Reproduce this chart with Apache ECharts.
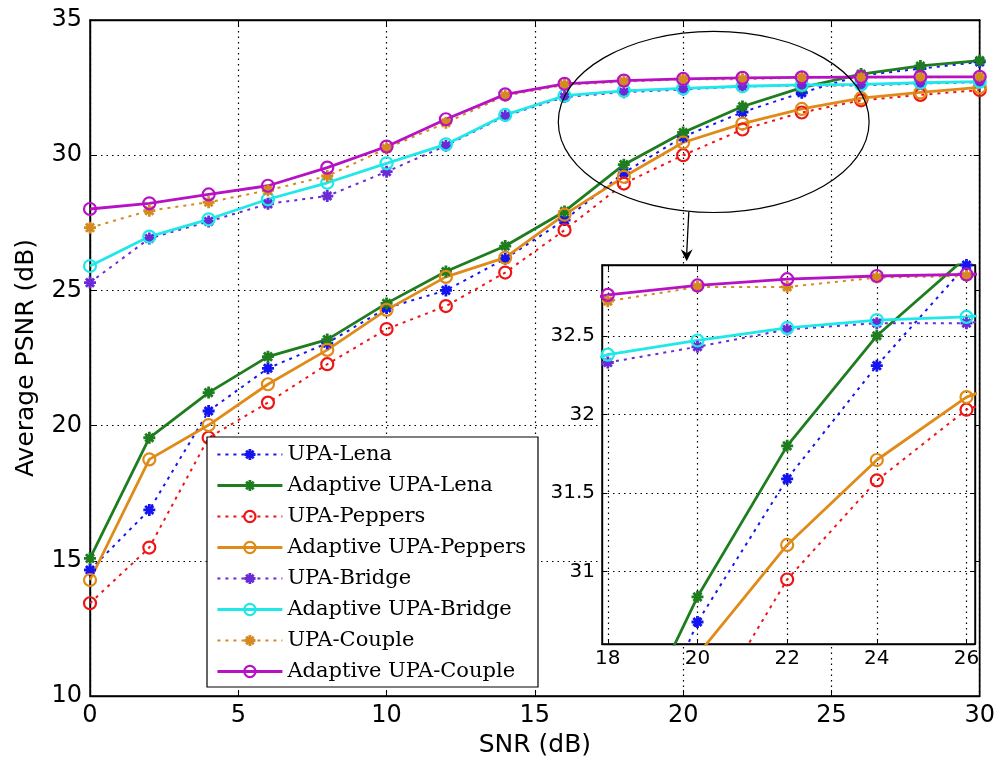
<!DOCTYPE html>
<html>
<head>
<meta charset="utf-8">
<script src="https://cdn.jsdelivr.net/npm/echarts@6/dist/echarts.min.js"></script>
<style>
  html, body { margin: 0; padding: 0; background: #fff; }
  #chart { width: 998px; height: 763px; }
</style>
</head>
<body>
<div id="chart"></div>
<script>
// SNR sweep (dB)
const snr = [0, 2, 4, 6, 8, 10, 12, 14, 16, 18, 20, 22, 24, 26, 28, 30];

// Average PSNR (dB) per test image
const upaLena          = [14.66, 16.88, 20.54, 22.12, 23.05, 24.35, 25.00, 26.17, 27.60, 29.35, 30.68, 31.59, 32.31, 32.95, 33.20, 33.45];
const adaptiveLena     = [15.09, 19.55, 21.22, 22.55, 23.18, 24.52, 25.70, 26.64, 27.92, 29.65, 30.84, 31.80, 32.50, 33.00, 33.30, 33.50];
const upaPeppers       = [13.43, 15.49, 19.55, 20.85, 22.27, 23.57, 24.42, 25.66, 27.23, 28.95, 30.00, 30.95, 31.58, 32.03, 32.23, 32.41];
const adaptivePeppers  = [14.29, 18.75, 20.02, 21.53, 22.80, 24.28, 25.50, 26.21, 27.80, 29.20, 30.47, 31.17, 31.71, 32.11, 32.32, 32.51];
const upaBridge        = [25.29, 26.92, 27.55, 28.20, 28.49, 29.39, 30.35, 31.45, 32.15, 32.33, 32.43, 32.54, 32.58, 32.58, 32.65, 32.70];
const adaptiveBridge   = [25.90, 26.99, 27.63, 28.37, 28.98, 29.70, 30.40, 31.49, 32.20, 32.38, 32.47, 32.55, 32.60, 32.62, 32.68, 32.72];
const upaCouple        = [27.32, 27.95, 28.26, 28.70, 29.23, 30.25, 31.20, 32.20, 32.60, 32.72, 32.81, 32.81, 32.87, 32.88, 32.88, 32.90];
const adaptiveCouple   = [28.01, 28.22, 28.55, 28.87, 29.54, 30.32, 31.33, 32.25, 32.64, 32.76, 32.82, 32.86, 32.88, 32.89, 32.90, 32.90];

const seriesNames = [
  'UPA-Lena', 'Adaptive UPA-Lena',
  'UPA-Peppers', 'Adaptive UPA-Peppers',
  'UPA-Bridge', 'Adaptive UPA-Bridge',
  'UPA-Couple', 'Adaptive UPA-Couple'
];
const seriesValues = [upaLena, adaptiveLena, upaPeppers, adaptivePeppers,
                      upaBridge, adaptiveBridge, upaCouple, adaptiveCouple];

// Axis ticks
const mainXTicks = [0, 5, 10, 15, 20, 25, 30];
const mainYTicks = [10, 15, 20, 25, 30, 35];
const zoomXTicks = [18, 20, 22, 24, 26];
const zoomYTicks = [31, 31.5, 32, 32.5];

// Marker shapes: asterisk (stroked) and open ring
const STAR = 'path://M5,0L5,10M0,5L10,5M1.6,1.6L8.4,8.4M8.4,1.6L1.6,8.4';
const RING = 'path://M0,5A5,5,0,1,1,10,5A5,5,0,1,1,0,5Z';

const styles = [
  { color: '#1414f0', dotted: true,  marker: STAR },
  { color: '#1e7d1e', dotted: false, marker: STAR },
  { color: '#ee1515', dotted: true,  marker: RING },
  { color: '#e08a18', dotted: false, marker: RING },
  { color: '#6a2ad6', dotted: true,  marker: STAR },
  { color: '#1fe8e8', dotted: false, marker: RING },
  { color: '#d48a1e', dotted: true,  marker: STAR },
  { color: '#b612c4', dotted: false, marker: RING }
];

function lineStyleOf(s) {
  return s.dotted
    ? { color: s.color, width: 2, type: [3, 5] }
    : { color: s.color, width: 2.8, type: 'solid' };
}
function itemStyleOf(s) {
  return s.marker === RING
    ? { color: 'transparent', borderColor: s.color, borderWidth: 2.2 }
    : { color: s.color, borderColor: s.color, borderWidth: 2.8 };
}

function buildSeries(xAxisIndex, yAxisIndex, z) {
  return seriesNames.map((name, k) => ({
    name: name,
    type: 'line',
    xAxisIndex: xAxisIndex,
    yAxisIndex: yAxisIndex,
    data: snr.map((x, i) => [x, seriesValues[k][i]]),
    symbol: styles[k].marker,
    symbolSize: 12,
    showAllSymbol: true,
    clip: true,
    z: z,
    lineStyle: lineStyleOf(styles[k]),
    itemStyle: itemStyleOf(styles[k]),
    emphasis: { disabled: true },
    animation: false
  }));
}

const TICK_FONT = 'DejaVu Sans';
const dottedGrid = { show: true, lineStyle: { color: '#000', width: 1.2, type: [1.5, 4] } };
const blackLine = { show: true, onZero: false, lineStyle: { color: '#000', width: 1.4 } };

const option = {
  backgroundColor: '#fff',
  animation: false,
  grid: [
    { left: 90, top: 20, right: 17, bottom: 67, show: true, borderColor: '#000', borderWidth: 1.4, z: 0 },
    { left: 602, top: 265, right: 23, bottom: 119, show: true, backgroundColor: '#fff',
      borderColor: '#000', borderWidth: 1.4, z: 10 }
  ],
  xAxis: [
    {
      gridIndex: 0, type: 'value', position: 'bottom', min: 0, max: 30, interval: 5,
      axisLine: blackLine,
      axisTick: { show: true, inside: true, length: 6, lineStyle: { color: '#000' } },
      axisLabel: { color: '#000', fontFamily: TICK_FONT, fontSize: 24, margin: 8,
                   customValues: mainXTicks },
      splitLine: dottedGrid,
      name: 'SNR (dB)', nameLocation: 'middle', nameGap: 37,
      nameTextStyle: { color: '#000', fontFamily: TICK_FONT, fontSize: 25 }
    },
    {
      gridIndex: 0, type: 'value', position: 'top', min: 0, max: 30, interval: 5,
      axisLine: blackLine,
      axisTick: { show: true, inside: true, length: 6, lineStyle: { color: '#000' } },
      axisLabel: { show: false }, splitLine: { show: false }
    },
    {
      gridIndex: 1, type: 'value', position: 'bottom', min: 17.87, max: 26.19, z: 11,
      axisLine: blackLine,
      axisTick: { show: true, inside: true, length: 5, customValues: zoomXTicks, lineStyle: { color: '#000' } },
      axisLabel: { color: '#000', fontFamily: TICK_FONT, fontSize: 20, margin: 5, customValues: zoomXTicks },
      splitLine: dottedGrid
    },
    {
      gridIndex: 1, type: 'value', position: 'top', min: 17.87, max: 26.19, z: 11,
      axisLine: blackLine,
      axisTick: { show: true, inside: true, length: 5, customValues: zoomXTicks, lineStyle: { color: '#000' } },
      axisLabel: { show: false }, splitLine: { show: false }
    }
  ],
  yAxis: [
    {
      gridIndex: 0, type: 'value', position: 'left', min: 10, max: 35, interval: 5,
      axisLine: blackLine,
      axisTick: { show: true, inside: true, length: 6, lineStyle: { color: '#000' } },
      axisLabel: { color: '#000', fontFamily: TICK_FONT, fontSize: 24, margin: 8,
                   customValues: mainYTicks },
      splitLine: dottedGrid,
      name: 'Average PSNR (dB)', nameLocation: 'middle', nameGap: 51,
      nameTextStyle: { color: '#000', fontFamily: TICK_FONT, fontSize: 25 }
    },
    {
      gridIndex: 0, type: 'value', position: 'right', min: 10, max: 35, interval: 5,
      axisLine: blackLine,
      axisTick: { show: true, inside: true, length: 6, lineStyle: { color: '#000' } },
      axisLabel: { show: false }, splitLine: { show: false }
    },
    {
      gridIndex: 1, type: 'value', position: 'left', min: 30.54, max: 32.95, z: 11,
      axisLine: blackLine,
      axisTick: { show: true, inside: true, length: 5, customValues: zoomYTicks, lineStyle: { color: '#000' } },
      axisLabel: { color: '#000', fontFamily: TICK_FONT, fontSize: 20, margin: 7, customValues: zoomYTicks },
      splitLine: dottedGrid
    },
    {
      gridIndex: 1, type: 'value', position: 'right', min: 30.54, max: 32.95, z: 11,
      axisLine: blackLine,
      axisTick: { show: true, inside: true, length: 5, customValues: zoomYTicks, lineStyle: { color: '#000' } },
      axisLabel: { show: false }, splitLine: { show: false }
    }
  ],
  legend: {
    orient: 'vertical',
    left: 207, top: 437,
    itemWidth: 65, itemHeight: 14, itemGap: 10,
    padding: [7, 12, 5, 9],
    backgroundColor: '#fff',
    borderColor: '#000', borderWidth: 1.2, borderRadius: 0,
    selectedMode: false,
    z: 20,
    textStyle: { color: '#000', fontFamily: 'DejaVu Serif', fontSize: 21, lineHeight: 21 },
    data: seriesNames.map((name, k) => ({
      name: name,
      itemStyle: itemStyleOf(styles[k]),
      lineStyle: lineStyleOf(styles[k])
    }))
  },
  series: buildSeries(0, 0, 2).concat(buildSeries(2, 2, 12))
};

const chart = echarts.init(document.getElementById('chart'), null, { renderer: 'canvas' });
chart.setOption(option);

// Callout: ellipse around the high-SNR region and an arrow down to the zoomed view
const calloutCenter = [21.03, 31.23];
const calloutRadius = [5.24, 3.35];
const arrowFrom = [20.19, 27.9];
const arrowTo = [20.12, 26.08];

const toPx = p => chart.convertToPixel({ gridIndex: 0 }, p);
const c = toPx(calloutCenter);
const ex = toPx([calloutCenter[0] + calloutRadius[0], calloutCenter[1]]);
const ey = toPx([calloutCenter[0], calloutCenter[1] + calloutRadius[1]]);
const a0 = toPx(arrowFrom);
const a1 = toPx(arrowTo);

chart.setOption({
  graphic: [
    {
      type: 'ellipse', z: 15, silent: true,
      shape: { cx: c[0], cy: c[1], rx: Math.abs(ex[0] - c[0]), ry: Math.abs(c[1] - ey[1]) },
      style: { fill: null, stroke: '#000', lineWidth: 1.2 }
    },
    {
      type: 'line', z: 15, silent: true,
      shape: { x1: a0[0], y1: a0[1], x2: a1[0], y2: a1[1] - 8 },
      style: { stroke: '#000', lineWidth: 1.3 }
    },
    {
      type: 'polygon', z: 15, silent: true,
      shape: { points: [[a1[0], a1[1]], [a1[0] - 6, a1[1] - 12], [a1[0], a1[1] - 8], [a1[0] + 6, a1[1] - 12]] },
      style: { fill: '#000' }
    }
  ]
});
</script>
</body>
</html>
